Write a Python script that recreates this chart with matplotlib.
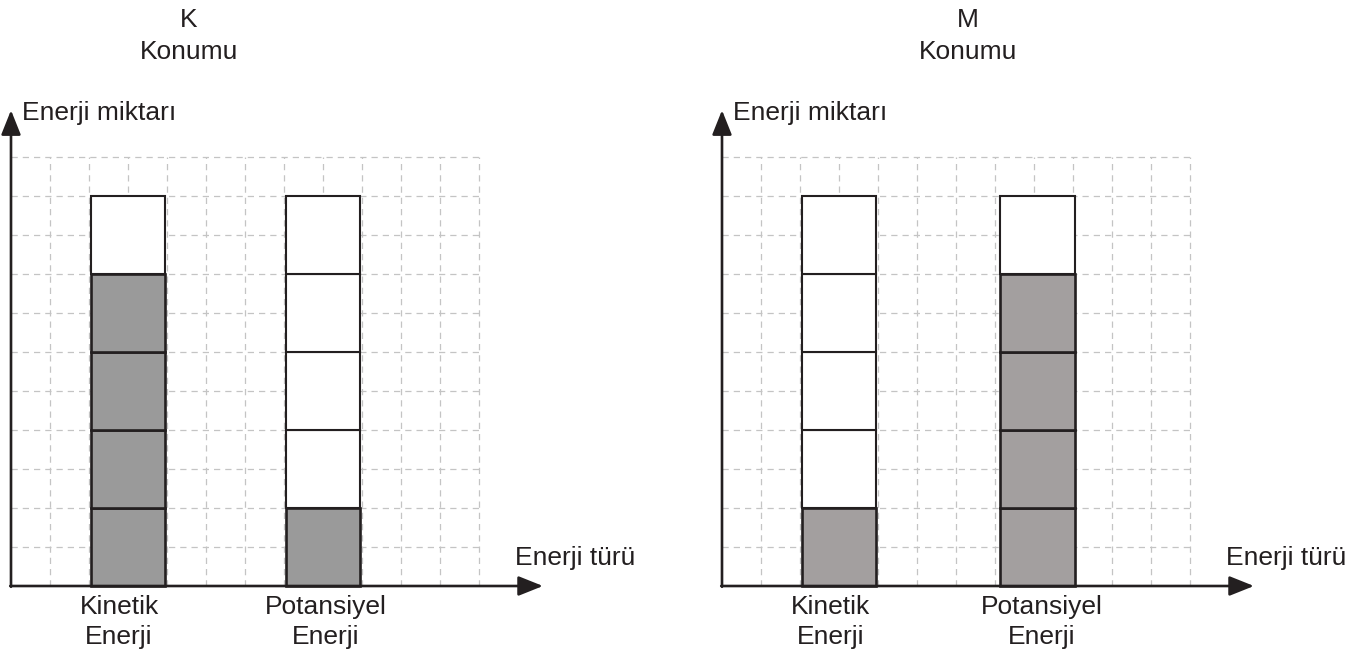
import matplotlib.pyplot as plt

# energy blocks filled (out of five) at each position
categories = ["Kinetik\nEnerji", "Potansiyel\nEnerji"]
k_filled = [4, 1]
m_filled = [1, 4]
total_blocks = 5
block_size = 2  # one block covers two grid cells

plt.rcParams["font.family"] = ["Liberation Sans", "DejaVu Sans"]

W, H = 1366, 655
UNIT = 39  # pixels per grid cell
INK = "#231f20"
GRID = "#c4c4c4"
FS = 19


def draw_panel(ax, title, filled, fill_color, bar_x, title_x, label_x):
    """draws one energy diagram with dashed grid, arrows and stacked blocks"""
    ax.set_axis_off()

    # dashed grid
    ax.hlines(range(1, 12), 0, 12, colors=GRID, linewidth=0.9,
              linestyles=(0, (5, 4)), zorder=1)
    ax.vlines(range(1, 13), 0, 11, colors=GRID, linewidth=0.9,
              linestyles=(0, (5, 4)), zorder=1)

    # stacked blocks, empty ones first so filled edges lie on top
    bottoms = [block_size * j for j in range(total_blocks)]
    for x, n in zip(bar_x, filled):
        ax.bar([x] * (total_blocks - n), [block_size] * (total_blocks - n),
               bottom=bottoms[n:], width=1.92, color="white",
               edgecolor=INK, linewidth=1.5, zorder=3)
        ax.bar([x] * n, [block_size] * n, bottom=bottoms[:n], width=1.92,
               color=fill_color, edgecolor=INK, linewidth=1.9, zorder=4)

    # axes as arrows
    arrow = dict(arrowstyle="-|>,head_length=0.75,head_width=0.3",
                 lw=1.9, color=INK, mutation_scale=20, shrinkA=0, shrinkB=0)
    ax.annotate("", xy=(0, 12.2), xytext=(0, -0.02), arrowprops=arrow, zorder=5)
    ax.annotate("", xy=(13.64, 0), xytext=(-0.02, 0), arrowprops=arrow, zorder=5)

    ax.text(0.28, 12.14, "Enerji miktarı", fontsize=FS, color=INK,
            ha="left", va="center")
    ax.text(12.93, 0.72, "Enerji türü", fontsize=FS, color=INK,
            ha="left", va="center")

    for lx, cat in zip(label_x, categories):
        ax.text(lx, -0.93, cat, fontsize=FS, color=INK, ha="center",
                va="center", linespacing=1.32)

    ax.text(title_x, 14.1, title + "\nKonumu", fontsize=FS, color=INK,
            ha="center", va="center", linespacing=1.4)


fig = plt.figure(figsize=(W / 100, H / 100), dpi=100)

origin_y = 586
panels = [
    # (left px, origin px, title, filled, color, bar x, title x, label x)
    (0, 11, "K", k_filled, "#9a9a9a", [3, 8], 4.56, [2.77, 8.08]),
    (683, 722, "M", m_filled, "#a39f9f", [3, 8.1], 6.3, [2.79, 8.2]),
]
for left, ox, title, filled, color, bx, tx, lx in panels:
    ax = fig.add_axes([left / W, 0, 683 / W, 1])
    ax.set_xlim((left - ox) / UNIT, (left + 683 - ox) / UNIT)
    ax.set_ylim((origin_y - H) / UNIT, origin_y / UNIT)
    draw_panel(ax, title, filled, color, bx, tx, lx)

plt.savefig("out.png", dpi=100)
